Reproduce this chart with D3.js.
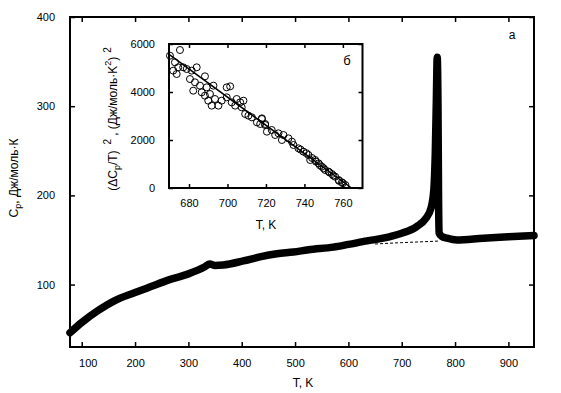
<!DOCTYPE html>
<html>
<head>
<meta charset="utf-8">
<script src="https://cdn.jsdelivr.net/npm/d3@7"></script>
<style>
  html, body { margin: 0; padding: 0; background: #fff; }
  svg { display: block; font-family: "Liberation Sans", Arial, sans-serif; }
  text { fill: #000; }
</style>
</head>
<body>
<svg id="chart" width="561" height="393"></svg>
<script>
// ---- Main curve: Cp(T) ----
const mainT  = [78, 100, 131, 162, 200, 231, 262, 300, 331, 340, 350, 365, 403, 434, 466, 497, 525, 572, 600, 635, 665, 697, 728, 745, 755, 760, 763, 765, 766.5, 768, 769, 770, 775, 785, 803, 853, 900, 948];
const mainCp = [46, 57.5, 71, 82, 91, 98, 105, 112, 120, 123, 121.5, 122, 126.5, 131, 134.5, 136.5, 139, 142, 145, 149, 152, 157, 165, 174, 186, 205, 250, 310, 355, 300, 200, 158, 154, 152, 150, 152, 153.5, 155];

// ---- Dashed baseline ----
const baseT  = [650, 700, 740, 770];
const baseCp = [145.5, 147, 148, 148.8];

// ---- Inset: (dCp/T)^2 vs T ----
const insetT = [670.1, 675.3, 672.7, 671.8, 674.4, 673.6, 677, 678.8, 681.4, 684, 680.5, 688.3, 683.1, 682.2, 685.7, 686.6, 689.2, 688.3, 690.9, 690, 692.7, 691.8, 693.5, 695.3, 697, 699.6, 701.4, 699.6, 702.2, 704.8, 704, 706.6, 708.3, 707.4, 709.2, 710.9, 712.7, 715.3, 717.9, 717, 719.6, 717.9, 719.6, 720.5, 723, 724.8, 726.5, 729.1, 728.3, 731.7, 733.5, 734.3, 736.9, 738, 739.5, 741, 742.1, 743, 744, 745.6, 746, 747.4, 748, 749.1, 750, 750.8, 752.6, 753, 754.3, 755, 756, 757.8, 758, 759.5, 760, 761.3];
const insetV = [5513, 5750, 5236, 4890, 5028, 4750, 5028, 4958, 4890, 5028, 4540, 4653, 4403, 4055, 4264, 3986, 4194, 3847, 3917, 3639, 4264, 3431, 3708, 3431, 3639, 4194, 4236, 3778, 3569, 3708, 3431, 3569, 3639, 3361, 3083, 3014, 2944, 2736, 2875, 2667, 2667, 2903, 2625, 2347, 2417, 2208, 2278, 2208, 2000, 2069, 1931, 1792, 1653, 1600, 1514, 1450, 1375, 1167, 1250, 1167, 1100, 1028, 950, 889, 820, 750, 681, 650, 583, 520, 472, 333, 300, 236, 200, 125];
const fitT = [670, 764.5];
const fitV = [5550, 0];

// ---- Ticks ----
const mainXTicks = [100, 200, 300, 400, 500, 600, 700, 800, 900];
const mainYTicks = [100, 200, 300, 400];
const insetXTicks = [680, 700, 720, 740, 760];
const insetYTicks = [0, 2000, 4000, 6000];

const svg = d3.select("#chart");

// Scales
const x = d3.scaleLinear().domain([78, 948]).range([70, 534]);
const y = d3.scaleLinear().domain([30, 400]).range([347, 17]);
const xi = d3.scaleLinear().domain([669.6, 770.2]).range([169, 362.5]);
const yi = d3.scaleLinear().domain([0, 6000]).range([188, 44]);

function frame(g, sx, sy, xt, yt, tlen, fs, ylabPad) {
  const [x0, x1] = sx.range();
  const [y0, y1] = sy.range();
  const bottom = d3.axisBottom(sx).tickValues(xt).tickSize(-tlen).tickPadding(tlen + 7).tickFormat(d3.format("d"));
  const top = d3.axisTop(sx).tickValues(xt).tickSize(-tlen).tickFormat("");
  const left = d3.axisLeft(sy).tickValues(yt).tickSize(-tlen).tickPadding(ylabPad).tickFormat(d3.format("d"));
  const right = d3.axisRight(sy).tickValues(yt).tickSize(-tlen).tickFormat("");
  const gb = g.append("g").attr("transform", `translate(0,${y0})`).call(bottom);
  const gt = g.append("g").attr("transform", `translate(0,${y1})`).call(top);
  const gl = g.append("g").attr("transform", `translate(${x0},0)`).call(left);
  const gr = g.append("g").attr("transform", `translate(${x1},0)`).call(right);
  [gb, gt, gl, gr].forEach(a => {
    a.select(".domain").remove();
    a.selectAll("line").attr("stroke", "#000").attr("stroke-width", 1.5);
    a.selectAll("text").attr("font-size", fs).attr("font-family", "Liberation Sans, Arial, sans-serif").attr("fill", "#000");
  });
  g.append("rect").attr("x", x0).attr("y", y1).attr("width", x1 - x0).attr("height", y0 - y1)
    .attr("fill", "none").attr("stroke", "#000").attr("stroke-width", 2);
  return gb;
}

// ---- Main chart ----
const gMain = svg.append("g");

gMain.append("path")
  .datum(baseT.map((t, i) => [t, baseCp[i]]))
  .attr("fill", "none").attr("stroke", "#000").attr("stroke-width", 1)
  .attr("stroke-dasharray", "3,2")
  .attr("d", d3.line().x(d => x(d[0])).y(d => y(d[1])).curve(d3.curveMonotoneX));

gMain.append("path")
  .datum(mainT.map((t, i) => [t, mainCp[i]]))
  .attr("fill", "none").attr("stroke", "#000").attr("stroke-width", 7.5)
  .attr("stroke-linecap", "round").attr("stroke-linejoin", "round")
  .attr("d", d3.line().x(d => x(d[0])).y(d => y(d[1])).curve(d3.curveMonotoneX));

const mainBottom = frame(gMain, x, y, mainXTicks, mainYTicks, 5, 11, 15);
// first x label sits slightly right of its tick in the reference
mainBottom.selectAll(".tick").filter(d => d === 100).select("text").attr("dx", 6);

gMain.append("text").attr("x", 303).attr("y", 387).attr("text-anchor", "middle").attr("font-size", 12).text("T, K");
const yl = gMain.append("text").attr("transform", "translate(18,178) rotate(-90)").attr("text-anchor", "middle").attr("font-size", 12);
yl.append("tspan").text("C");
yl.append("tspan").attr("font-size", 9).attr("dy", 3).text("p");
yl.append("tspan").attr("dy", -3).text(", Дж/моль·К");
gMain.append("text").attr("x", 512).attr("y", 39).attr("text-anchor", "middle").attr("font-size", 12).text("а");

// ---- Inset ----
const gIn = svg.append("g");
gIn.append("rect").attr("x", 169).attr("y", 44).attr("width", 193.5).attr("height", 144).attr("fill", "#fff");

gIn.append("path")
  .datum(fitT.map((t, i) => [t, fitV[i]]))
  .attr("fill", "none").attr("stroke", "#000").attr("stroke-width", 1.5)
  .attr("d", d3.line().x(d => xi(d[0])).y(d => yi(d[1])));

gIn.selectAll("circle.pt")
  .data(insetT.map((t, i) => [t, insetV[i]]))
  .join("circle").attr("class", "pt")
  .attr("cx", d => xi(d[0])).attr("cy", d => yi(d[1])).attr("r", 3.5)
  .attr("fill", "none").attr("stroke", "#000").attr("stroke-width", 1);

frame(gIn, xi, yi, insetXTicks, insetYTicks, 4, 11, 14);

gIn.append("text").attr("x", 266).attr("y", 229).attr("text-anchor", "middle").attr("font-size", 12).text("T, K");
gIn.append("text").attr("x", 347).attr("y", 65).attr("text-anchor", "middle").attr("font-size", 13).text("б");

const yil = gIn.append("text").attr("transform", "translate(117,119) rotate(-90)").attr("text-anchor", "middle").attr("font-size", 12);
yil.append("tspan").text("(ΔC");
yil.append("tspan").attr("font-size", 9).attr("dy", 3).text("p");
yil.append("tspan").attr("dy", -3).text("/T)");
yil.append("tspan").attr("font-size", 10).attr("dy", -6).attr("dx", 6).text("2");
yil.append("tspan").attr("dy", 6).attr("dx", 3).text(", (Дж/моль·K");
yil.append("tspan").attr("font-size", 9).attr("dy", -6).text("2");
yil.append("tspan").attr("dy", 6).text(")");
yil.append("tspan").attr("font-size", 10).attr("dy", -6).attr("dx", 4).text("2");
</script>
</body>
</html>
